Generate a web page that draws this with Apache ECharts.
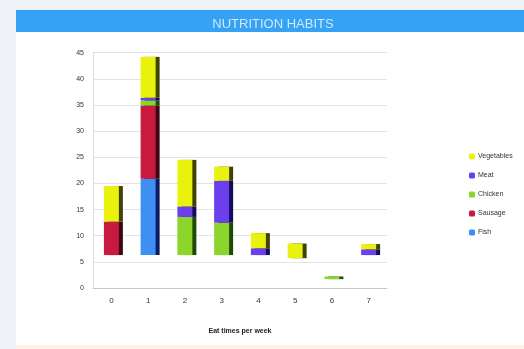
<!DOCTYPE html>
<html>
<head>
<meta charset="utf-8">
<script src="https://cdn.jsdelivr.net/npm/echarts@6/dist/echarts.min.js"></script>
<style>
html,body{margin:0;padding:0;background:#eef2f6;}
#c{width:524px;height:349px;}
</style>
</head>
<body>
<div id="c"></div>
<script>
var categories = ['0','1','2','3','4','5','6','7'];
var yTicks = [0,5,10,15,20,25,30,35,40,45];
var floorOffset = [6.3,6.3,6.3,6.3,6.3,5.7,1.7,6.3];
var fish = [0,14.6,0,0,0,0,0,0];
var sausage = [6.4,14.0,0,0,0,0,0,0];
var chicken = [0,1.0,7.3,6.2,0,0,0.5,0];
var meat = [0,0.5,2.0,8.0,1.3,0,0,1.1];
var vegetables = [6.8,7.8,8.9,2.7,2.9,2.8,0,1.0];

var colors = {Vegetables:'#e9f20c', Meat:'#6a40ee', Chicken:'#8cd52c', Sausage:'#c71a3e', Fish:'#3d8ff2'};
var sides = {Vegetables:'#3f4200', Meat:'#150a5c', Chicken:'#1e4a06', Sausage:'#3a0612', Fish:'#0a1a5e'};

function mk(name, data){
  return {
    name:name, type:'bar', stack:'s', data:data, barWidth:15,
    itemStyle:{color:colors[name], shadowColor:sides[name], shadowBlur:0, shadowOffsetX:4, shadowOffsetY:0},
    emphasis:{disabled:true}
  };
}

var chart = echarts.init(document.getElementById('c'));
chart.setOption({
  animation:false,
  backgroundColor:'transparent',
  graphic:[
    {type:'rect', z:-10, shape:{x:16,y:32,width:508,height:317}, style:{fill:'#ffffff'}},
    {type:'rect', z:-10, shape:{x:16,y:10,width:508,height:22}, style:{fill:'#36a2f4'}},
    {type:'rect', z:-10, shape:{x:16,y:345,width:508,height:4}, style:{fill:'#fdf1e4'}}
  ],
  title:{text:'NUTRITION HABITS', left:268, textAlign:'center', top:13,
    textStyle:{color:'#cfe8fc', fontSize:13, fontWeight:'normal', fontFamily:'Liberation Sans'}},
  legend:{
    orient:'vertical', left:464, top:148, itemGap:12, itemWidth:6, itemHeight:6,
    data:['Vegetables','Meat','Chicken','Sausage','Fish'],
    textStyle:{fontSize:7, color:'#333', fontFamily:'Liberation Sans', padding:[0,0,0,-2]}
  },
  grid:{left:93, right:137, top:52.7, bottom:61},
  xAxis:{
    type:'category', data:categories,
    name:'Eat times per week', nameLocation:'middle', nameGap:40,
    nameTextStyle:{fontSize:7, fontWeight:'bold', color:'#222', fontFamily:'Liberation Sans'},
    axisLine:{lineStyle:{color:'#c8c8c8'}},
    axisTick:{show:false},
    axisLabel:{fontSize:8, color:'#333', margin:9, fontFamily:'Liberation Sans'}
  },
  yAxis:{
    type:'value', min:0, max:45, interval:5,
    axisLine:{show:true, lineStyle:{color:'#d8d8d8', type:'dotted'}},
    axisTick:{show:false},
    axisLabel:{fontSize:7, color:'#333', margin:9, fontFamily:'Liberation Sans',
      formatter:function(v){return yTicks.indexOf(v)>=0 ? String(v) : '';}},
    splitLine:{lineStyle:{color:'#e4e4e4'}}
  },
  series:[
    {name:'base', type:'bar', stack:'s', data:floorOffset, barWidth:15, itemStyle:{color:'transparent'}, emphasis:{disabled:true}, silent:true},
    mk('Fish', fish),
    mk('Sausage', sausage),
    mk('Chicken', chicken),
    mk('Meat', meat),
    mk('Vegetables', vegetables)
  ]
});
</script>
</body>
</html>
